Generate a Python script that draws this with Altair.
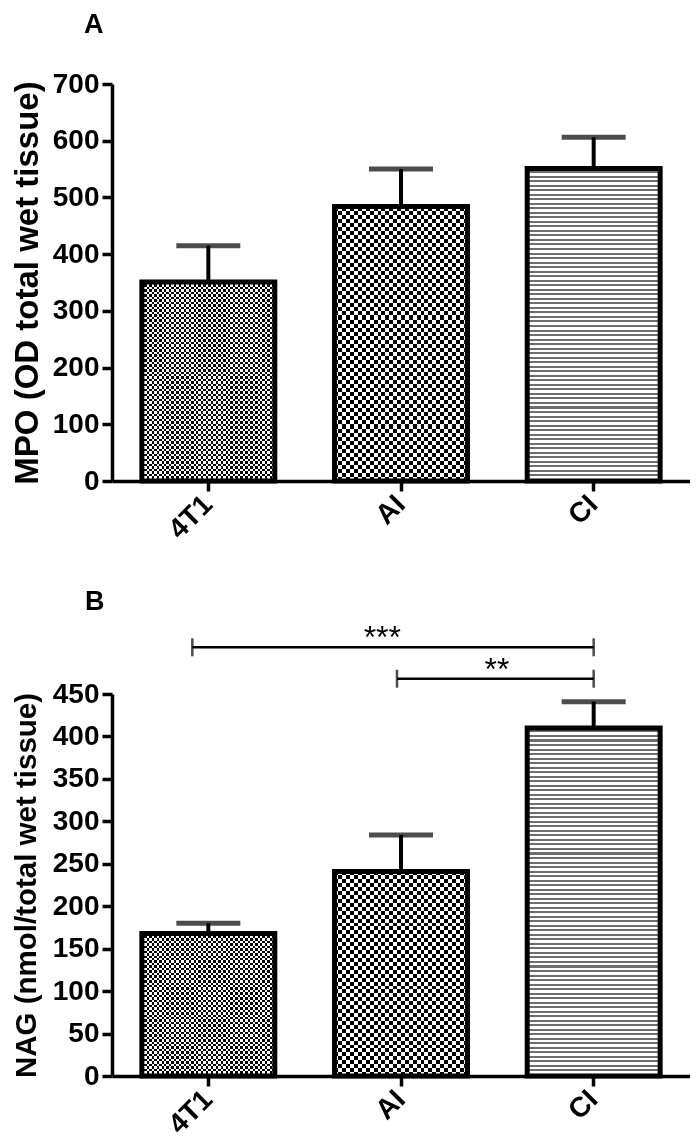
import altair as alt
import pandas as pd

# ---------------- data ----------------
groups = ["4T1", "AI", "CI"]
mpo_mean = [351, 484, 551]
mpo_sem = [64, 66, 55]
nag_mean = [168, 241, 410]
nag_sem = [12, 43, 31]

sig_start = ["4T1", "AI"]
sig_end = ["CI", "CI"]
sig_level = [505, 468]
sig_text = ["***", "**"]

FONT = "Liberation Sans"


def stripes(n, c1, c2, frac, horizontal):
    """Hard-edged linear gradient giving n stripe periods (style only)."""
    stops = []
    for i in range(n):
        a, m, b = i / n, (i + frac) / n, (i + 1) / n
        stops += [
            {"offset": a, "color": c1},
            {"offset": m, "color": c1},
            {"offset": m, "color": c2},
            {"offset": b, "color": c2},
        ]
    g = {"gradient": "linear", "stops": stops, "x1": 0, "y1": 0}
    if horizontal:
        g.update(x2=0, y2=1)
    else:
        g.update(x2=1, y2=0)
    return g


def panel(means, sems, ymax, step, ytitle, ytitle_size, ytitle_pad, letter,
          letter_dx, patterns, title_offset, width, height, brackets=False):
    df = pd.DataFrame({"group": groups, "mean": means, "sem": sems})
    xscale = alt.Scale(domain=groups, paddingInner=0.31, paddingOuter=0.155)
    yscale = alt.Scale(domain=[0, ymax], nice=False, zero=True)
    xaxis = alt.Axis(title=None, labelAngle=-45, labelAlign="right",
                     labelBaseline="middle", labelPadding=9)
    yaxis = alt.Axis(title=ytitle, values=list(range(0, ymax + 1, step)),
                     labelFlush=False, labelOverlap=False,
                     titleFontSize=ytitle_size, titlePadding=ytitle_pad)

    def X(f):
        return alt.X(f, type="nominal", scale=xscale, axis=xaxis)

    def Y(f):
        return alt.Y(f, type="quantitative", scale=yscale, axis=yaxis)

    base = alt.Chart(df).encode(x=X("group"), y=Y("mean"))
    layers = []
    for g in groups:
        kind = patterns[g]
        sub = base.transform_filter(alt.datum.group == g)
        if kind[0] == "checker":
            layers.append(sub.mark_bar(
                fill=stripes(kind[1], "#000000", "#ffffff", 0.5, False),
                strokeWidth=0))
            layers.append(sub.mark_bar(
                fill=stripes(kind[2], "#000000", "#ffffff", 0.5, True),
                strokeWidth=0, blend="difference"))
        else:
            layers.append(sub.mark_bar(
                fill=stripes(kind[1], "#ffffff", "#6e6e6e", 0.55, True),
                strokeWidth=0))
    layers.append(base.mark_bar(fillOpacity=0, stroke="black", strokeWidth=5))
    err = alt.Chart(df).transform_calculate(upper="datum.mean + datum.sem")
    layers.append(err.mark_rule(color="black", strokeWidth=4).encode(
        x=X("group"), y=Y("mean"), y2="upper:Q"))
    layers.append(err.mark_tick(color="black", orient="horizontal", size=64,
                                thickness=5).encode(x=X("group"), y=Y("upper")))

    if brackets:
        bdx = [-16, -4]        # left end nudges of the brackets (style)
        tdx = [174, 96]        # star label nudges (style)
        sig = pd.DataFrame({"start": sig_start, "end": sig_end,
                            "level": sig_level, "label": sig_text})
        for i in range(len(sig)):
            s = alt.Chart(sig).transform_filter(
                alt.datum.label == sig_text[i])
            layers.append(s.mark_rule(color="black", strokeWidth=2.5,
                                      xOffset=bdx[i]).encode(
                x=X("start"), x2="end:N", y=Y("level")))
            layers.append(s.mark_tick(color="black", orient="vertical",
                                      size=18, thickness=2.5,
                                      xOffset=bdx[i]).encode(
                x=X("start"), y=Y("level")))
            layers.append(s.mark_tick(color="black", orient="vertical",
                                      size=18, thickness=2.5).encode(
                x=X("end"), y=Y("level")))
            layers.append(s.mark_text(font=FONT, fontSize=32, color="black",
                                      baseline="middle", dx=tdx[i],
                                      dy=-9).encode(
                x=X("start"), y=Y("level"), text="label:N"))

    return alt.layer(*layers).properties(
        width=width, height=height,
        title=alt.TitleParams(letter, anchor="start", frame="group",
                              dx=letter_dx, fontSize=27, font=FONT,
                              fontWeight="bold", color="black",
                              offset=title_offset),
    )


pat_a = {"4T1": ("checker", 27, 40), "AI": ("checker", 17, 34), "CI": ("lines", 69)}
pat_b = {"4T1": ("checker", 27, 29), "AI": ("checker", 17, 26), "CI": ("lines", 77)}

top = panel(mpo_mean, mpo_sem, 700, 100, "MPO (OD total wet tissue)", 33, 8,
            "A", -28, pat_a, 31, 578, 397)
bottom = panel(nag_mean, nag_sem, 450, 50, "NAG (nmol/total wet tissue)", 29.5,
               11, "B", -27, pat_b, 6, 578, 382, brackets=True)

chart = alt.vconcat(top, bottom, spacing=43).properties(
    padding={"left": 3, "top": 3, "right": 0, "bottom": 0}
).configure_view(stroke=None).configure_axis(
    grid=False,
    domainColor="black", domainWidth=3.5,
    tickColor="black", tickWidth=3.5, tickSize=10,
    labelColor="black", labelFont=FONT, labelFontSize=28,
    labelFontWeight="bold", labelPadding=3,
    titleColor="black", titleFont=FONT,
    titleFontWeight="bold",
)

chart.save("out.html", embed_options={"renderer": "svg", "actions": False})
